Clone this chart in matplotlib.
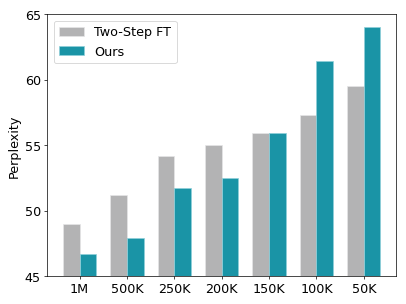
import matplotlib
matplotlib.use("Agg")
import matplotlib.pyplot as plt
import numpy as np

labels = ["1M", "500K", "250K", "200K", "150K", "100K", "50K"]
two_step = [49.0, 51.2, 54.2, 55.0, 55.9, 57.3, 59.5]
ours = [46.7, 47.9, 51.7, 52.5, 55.9, 61.4, 64.0]

x = np.arange(len(labels))
width = 0.35
fs = 14.5

fig, ax = plt.subplots(figsize=(6.4, 4.8), dpi=63.5)
ax.bar(x - width / 2, two_step, width, color="#b3b3b4", edgecolor="#e6e6e6",
       linewidth=0.8, label="Two-Step FT")
ax.bar(x + width / 2, ours, width, color="#1a94a6", edgecolor="#8fd0da",
       linewidth=0.8, label="Ours")
ax.set_xticks(x)
ax.set_xticklabels(labels, fontsize=fs)
ax.set_ylim(45, 65)
ax.set_yticks([45, 50, 55, 60, 65])
ax.tick_params(axis="y", labelsize=fs)
ax.set_ylabel("Perplexity", fontsize=fs)
ax.legend(loc="upper left", fontsize=fs)
plt.subplots_adjust(left=0.116, right=0.975, top=0.951, bottom=0.092)
fig.savefig("out.png")
